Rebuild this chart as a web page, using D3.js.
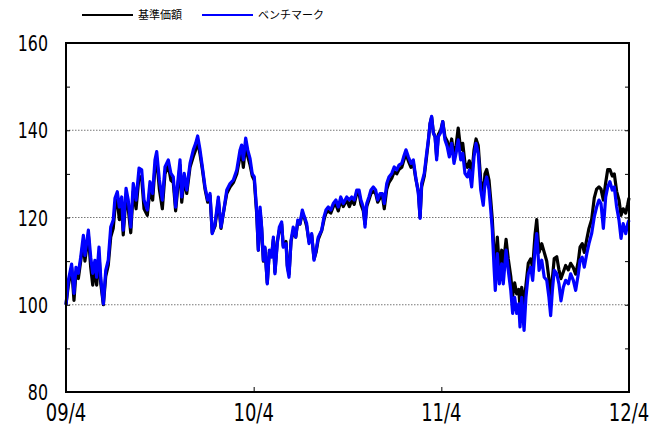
<!DOCTYPE html>
<html>
<head>
<meta charset="utf-8">
<script src="https://cdn.jsdelivr.net/npm/d3@7"></script>
<style>
  body { margin: 0; background: #fff; }
  text { font-family: "DejaVu Sans", sans-serif; }
  .legend text { font-family: "Noto Sans CJK JP", sans-serif; }
</style>
</head>
<body>
<div id="chart"></div>
<script>
// months since 2009/4
const months = [0, 0.15, 0.36, 0.51, 0.64, 0.79, 0.94, 1.11, 1.21, 1.43, 1.58, 1.71, 1.85, 1.96, 2.11, 2.22, 2.39, 2.54, 2.70, 2.86,
  3.02, 3.13, 3.28, 3.41, 3.56, 3.66, 3.84, 3.98, 4.14, 4.30, 4.48, 4.67, 4.84, 4.99, 5.20, 5.37, 5.54, 5.69, 5.80, 5.97,
  6.16, 6.33, 6.54, 6.71, 6.86, 7.01, 7.14, 7.29, 7.40, 7.56, 7.72, 7.93, 8.14, 8.29, 8.42, 8.57, 8.72, 8.89, 9.06, 9.21,
  9.35, 9.53, 9.74, 9.91, 10.06, 10.28, 10.49, 10.70, 10.92, 11.13, 11.23, 11.34, 11.49, 11.62, 11.77, 11.91, 12.04, 12.19, 12.30, 12.41,
  12.51, 12.62, 12.72, 12.87, 13.00, 13.15, 13.26, 13.36, 13.51, 13.64, 13.79, 13.89, 14.07, 14.15, 14.26, 14.39, 14.53, 14.69, 14.82, 14.96,
  15.11, 15.24, 15.39, 15.54, 15.71, 15.86, 15.99, 16.13, 16.35, 16.50, 16.62, 16.77, 16.93, 17.09, 17.26, 17.41, 17.57, 17.73, 17.95, 18.12,
  18.27, 18.43, 18.59, 18.74, 18.86, 19.01, 19.12, 19.23, 19.37, 19.50, 19.65, 19.80, 19.93, 20.08, 20.23, 20.35, 20.51, 20.65, 20.83, 20.99,
  21.15, 21.29, 21.47, 21.59, 21.74, 21.89, 22.06, 22.21, 22.36, 22.53, 22.64, 22.74, 22.91, 23.06, 23.17, 23.28, 23.38, 23.49, 23.60, 23.70,
  23.81, 23.96, 24.09, 24.23, 24.38, 24.51, 24.66, 24.81, 24.94, 25.08, 25.24, 25.37, 25.51, 25.66, 25.79, 25.94, 26.09, 26.22, 26.36, 26.52,
  26.68, 26.79, 26.90, 27.05, 27.16, 27.26, 27.37, 27.45, 27.58, 27.71, 27.86, 27.96, 28.14, 28.28, 28.44, 28.56, 28.69, 28.82, 28.95, 29.03,
  29.14, 29.29, 29.41, 29.56, 29.71, 29.84, 29.99, 30.10, 30.25, 30.42, 30.58, 30.74, 30.88, 30.99, 31.10, 31.22, 31.38, 31.52, 31.65, 31.80,
  31.95, 32.12, 32.27, 32.44, 32.59, 32.76, 32.87, 33.01, 33.14, 33.30, 33.44, 33.61, 33.78, 33.93, 34.08, 34.21, 34.36, 34.51, 34.64, 34.78,
  34.93, 35.06, 35.21, 35.36, 35.49, 35.63, 35.79, 35.92, 36.0]

// 基準価額
const nav = [100, 104.5, 108.5, 101, 107.5, 106, 110, 114.5, 110, 116, 108.5, 104.5, 108.5, 104.5, 111.5, 105, 100, 106.5, 109, 115.5,
  117.5, 122, 124, 119.5, 122.5, 116, 125, 122, 116.5, 126, 122, 129.5, 129, 122, 120.5, 126.5, 124, 131.5, 133.5, 126.5,
  122, 130, 132, 128.5, 128, 121.5, 126.5, 132, 123.5, 129, 125.5, 131.5, 134, 135.5, 137.5, 134.5, 131, 126.5, 123.5, 125,
  116.5, 118, 124, 117.5, 121, 125.5, 127, 128, 130, 134, 135, 131.5, 137, 134, 132, 129.5, 128.5, 121, 112.5, 121.5,
  117.5, 110, 113, 105, 112, 111.5, 115, 107.5, 114.5, 117, 118.5, 113.5, 114.5, 109, 107, 114.5, 117, 115.5, 119, 118.5,
  121, 120, 118, 114.5, 116, 110.5, 112, 115, 117, 119.5, 121, 121.5, 121, 122.5, 123, 121.5, 124, 122.5, 124, 122.5,
  124, 123, 125.5, 125.5, 123, 121.5, 118.5, 122.5, 124, 125.5, 126, 125.5, 123.5, 124.5, 125, 122, 126.5, 128, 129, 130.5,
  130, 131, 131.5, 133, 134.5, 133, 131.5, 132.5, 129, 126, 120, 127, 129.5, 134, 137.5, 141.5, 143, 139.5, 138.5, 134,
  139, 140, 142, 138.5, 137.5, 135, 138, 134, 136.5, 140.5, 135.5, 137, 132.5, 131.5, 133, 129.5, 135.5, 138, 136.5, 128.5,
  125, 130, 131, 128.5, 124, 119.5, 112, 108, 115.5, 108.5, 112.5, 109, 115, 110.5, 106.5, 102, 105, 102.5, 103.5, 99.5,
  104, 100, 104.5, 109.5, 110.5, 108.5, 116, 119.5, 112, 114, 112, 110, 106, 101.5, 106, 110.6, 111, 108, 106, 107.5,
  109, 108, 109.5, 108.5, 107, 110, 113.2, 114, 112, 115, 117.5, 119.5, 124.5, 126.5, 127, 126.5, 124, 128, 131, 131,
  129.5, 130, 126, 124, 120.5, 122, 121, 123, 124.5]

// ベンチマーク
const bench = [100, 105.6, 109.3, 102.6, 108.6, 107.2, 110.9, 115.9, 111.3, 117.1, 110.9, 107.2, 110.2, 106.3, 113.2, 106.3, 100.2, 107.9, 110.2, 117.8,
  119.4, 124.4, 125.9, 122.4, 124.7, 117.1, 126.7, 124, 117.8, 127.8, 124, 131.3, 130.9, 124, 121.7, 128.2, 125.5, 133.2, 135.1, 128.6,
  124, 131.6, 133.2, 130.1, 129.3, 122.4, 127.8, 133.2, 124.7, 130.1, 126.3, 132.4, 135.5, 137, 138.7, 135.5, 131.6, 127, 124, 125.5,
  116.3, 118.6, 124.7, 117.8, 120.9, 126.3, 127.8, 128.6, 130.9, 135.5, 136.6, 133.2, 138.2, 135.5, 133.5, 130, 129.3, 121.7, 112.5, 122.4,
  117.8, 110.2, 113.2, 104.8, 112.5, 110.9, 115.5, 107.1, 114, 117.8, 119, 113.2, 114, 108.6, 106.3, 114.8, 117.8, 115.5, 119.4, 118.6,
  121.7, 120.2, 118.6, 114, 116.3, 110.2, 112.5, 115.5, 117.1, 120.2, 121.7, 122.4, 121.7, 123.2, 124, 122.4, 124.7, 123.2, 124.7, 124,
  124.7, 124, 126.3, 126.3, 124, 122.4, 117.8, 123.2, 124.7, 126.3, 127, 126.3, 124, 125.5, 125.5, 123.2, 127.8, 129.3, 130.1, 131.6,
  130.9, 132, 132.4, 133.9, 135.5, 133.9, 132.4, 133.2, 129.3, 125.5, 119.8, 127.8, 130.1, 134.7, 137.8, 141.6, 143.2, 139.3, 138.5, 133.2,
  138.5, 139.5, 142, 137.8, 136.2, 133.9, 137, 132.4, 134.7, 137.8, 133.2, 134.7, 130.1, 129.3, 130.9, 127, 133.9, 137, 134.7, 126.3,
  122.8, 127.8, 129.3, 126.3, 121.7, 117.1, 108.6, 103.3, 111.7, 104.8, 109.4, 104.8, 112.5, 107.9, 103.3, 98, 101.7, 98, 100.2, 94.9,
  101.7, 94.1, 101.7, 107.1, 108.6, 105.6, 112.5, 116.3, 107.9, 110.2, 106.3, 105.6, 101.7, 97.5, 103.3, 107.9, 107.1, 104.8, 100.9, 104,
  105.6, 104.8, 107.1, 105.6, 103.3, 107.1, 110.2, 110.9, 108.6, 111.7, 114, 116.3, 120.2, 122.4, 124, 123.2, 117.5, 124.7, 127, 128.2,
  126.3, 127, 122.4, 119.4, 115.2, 118.6, 116.3, 118.6, 119.4]

const xTicks = [0, 12, 24, 36]
const xLabels = ['09/4', '10/4', '11/4', '12/4']
const yTicks = [80, 100, 120, 140, 160]
const gridValues = [100, 120, 140]
const seriesNames = ['基準価額', 'ベンチマーク']
const seriesColors = ['#000000', '#0000ff']

const w = 662
const h = 428
const plotLeft = 66, plotRight = 629, plotTop = 43, plotBottom = 392

const svg = d3.select('#chart')
    .append('svg')
    .attr('width', w)
    .attr('height', h)

const xScale = d3.scaleLinear().domain([0, 36]).range([plotLeft, plotRight])
const yScale = d3.scaleLinear().domain([80, 160]).range([plotBottom, plotTop])

// dotted grid lines
svg.selectAll('.grid')
    .data(gridValues)
    .enter()
    .append('line')
    .attr('x1', plotLeft)
    .attr('x2', plotRight)
    .attr('y1', (d) => yScale(d))
    .attr('y2', (d) => yScale(d))
    .attr('stroke', '#777')
    .attr('stroke-width', 1)
    .attr('stroke-dasharray', '1.5,1.5')

// inward ticks on both sides and bottom
const leftAxis = d3.axisLeft(yScale).tickValues(d3.range(80, 161, 10)).tickSize(-4).tickFormat('')
const rightAxis = d3.axisRight(yScale).tickValues(d3.range(80, 161, 10)).tickSize(-4).tickFormat('')
const bottomAxis = d3.axisBottom(xScale).tickValues(xTicks).tickSize(-5).tickFormat('')

svg.append('g').attr('transform', `translate(${plotLeft},0)`).call(leftAxis)
svg.append('g').attr('transform', `translate(${plotRight},0)`).call(rightAxis)
svg.append('g').attr('transform', `translate(0,${plotBottom})`).call(bottomAxis)
svg.selectAll('.domain').remove()
svg.selectAll('.tick line').attr('stroke', '#000').attr('stroke-width', 1)

// lines
const line = d3.line()
    .x((d, i) => xScale(months[i]))
    .y((d) => yScale(d))

svg.append('path')
    .datum(nav)
    .attr('d', line)
    .attr('fill', 'none')
    .attr('stroke', seriesColors[0])
    .attr('stroke-width', 3.2)
    .attr('stroke-linejoin', 'round')

svg.append('path')
    .datum(bench)
    .attr('d', line)
    .attr('fill', 'none')
    .attr('stroke', seriesColors[1])
    .attr('stroke-width', 3.2)
    .attr('stroke-linejoin', 'round')

// frame
svg.append('rect')
    .attr('x', plotLeft)
    .attr('y', plotTop)
    .attr('width', plotRight - plotLeft)
    .attr('height', plotBottom - plotTop)
    .attr('fill', 'none')
    .attr('stroke', '#000')
    .attr('stroke-width', 2)

// y labels (narrow, tall digits)
svg.selectAll('.ylab')
    .data(yTicks)
    .enter()
    .append('text')
    .attr('transform', (d) => `translate(48,${yScale(d) + 8}) scale(0.72,1)`)
    .attr('text-anchor', 'end')
    .attr('font-size', 22)
    .text((d) => d)

// x labels
svg.selectAll('.xlab')
    .data(xTicks)
    .enter()
    .append('text')
    .attr('transform', (d) => `translate(${xScale(d)},421) scale(0.72,1)`)
    .attr('text-anchor', 'middle')
    .attr('font-size', 25)
    .text((d, i) => xLabels[i])

// legend
const legend = svg.append('g').attr('class', 'legend')
const legendX = [82, 202]
seriesNames.forEach((name, i) => {
    legend.append('line')
        .attr('x1', legendX[i])
        .attr('x2', legendX[i] + 51)
        .attr('y1', 15)
        .attr('y2', 15)
        .attr('stroke', seriesColors[i])
        .attr('stroke-width', 2)
    legend.append('text')
        .attr('x', legendX[i] + 56)
        .attr('y', 19)
        .attr('font-size', 11)
        .text(name)
})
</script>
</body>
</html>
